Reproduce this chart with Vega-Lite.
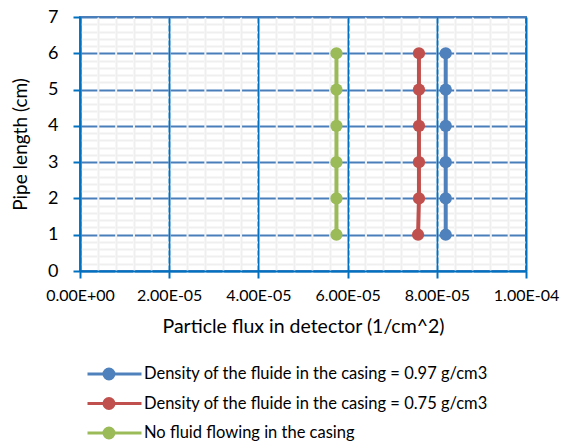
{
  "$schema": "https://vega.github.io/schema/vega-lite/v6.json",
  "autosize": {"type": "none"},
  "width": 446,
  "height": 254,
  "padding": {"left": 80, "top": 17, "right": 35, "bottom": 175},
  "background": "white",
  "config": {
    "font": "Lato",
    "view": {"stroke": "#4A7EBB", "strokeWidth": 2}
  },
  "data": {
    "values": [
      {"series": "Density of the fluide in the casing = 0.97 g/cm3", "flux": 0.0000820, "length": 1},
      {"series": "Density of the fluide in the casing = 0.97 g/cm3", "flux": 0.0000820, "length": 2},
      {"series": "Density of the fluide in the casing = 0.97 g/cm3", "flux": 0.0000820, "length": 3},
      {"series": "Density of the fluide in the casing = 0.97 g/cm3", "flux": 0.0000820, "length": 4},
      {"series": "Density of the fluide in the casing = 0.97 g/cm3", "flux": 0.0000820, "length": 5},
      {"series": "Density of the fluide in the casing = 0.97 g/cm3", "flux": 0.0000820, "length": 6},
      {"series": "Density of the fluide in the casing = 0.75 g/cm3", "flux": 0.0000758, "length": 1},
      {"series": "Density of the fluide in the casing = 0.75 g/cm3", "flux": 0.0000760, "length": 2},
      {"series": "Density of the fluide in the casing = 0.75 g/cm3", "flux": 0.0000760, "length": 3},
      {"series": "Density of the fluide in the casing = 0.75 g/cm3", "flux": 0.0000760, "length": 4},
      {"series": "Density of the fluide in the casing = 0.75 g/cm3", "flux": 0.0000760, "length": 5},
      {"series": "Density of the fluide in the casing = 0.75 g/cm3", "flux": 0.0000760, "length": 6},
      {"series": "No fluid flowing in the casing", "flux": 0.0000575, "length": 1},
      {"series": "No fluid flowing in the casing", "flux": 0.0000575, "length": 2},
      {"series": "No fluid flowing in the casing", "flux": 0.0000575, "length": 3},
      {"series": "No fluid flowing in the casing", "flux": 0.0000575, "length": 4},
      {"series": "No fluid flowing in the casing", "flux": 0.0000575, "length": 5},
      {"series": "No fluid flowing in the casing", "flux": 0.0000575, "length": 6}
    ]
  },
  "encoding": {
    "x": {
      "field": "flux",
      "type": "quantitative",
      "scale": {"domain": [0, 0.0001], "nice": false, "zero": true},
      "axis": {
        "title": "Particle flux in detector (1/cm^2)",
        "titleFont": "Lato",
        "titleFontSize": 19.5,
        "titleFontWeight": "normal",
        "titleColor": "#000000",
        "titlePadding": 14,
        "values": [0, 0.000004, 0.000008, 0.000012, 0.000016, 0.00002, 0.000024, 0.000028, 0.000032, 0.000036, 0.00004, 0.000044, 0.000048, 0.000052, 0.000056, 0.00006, 0.000064, 0.000068, 0.000072, 0.000076, 0.00008, 0.000084, 0.000088, 0.000092, 0.000096, 0.0001],
        "labelExpr": "abs(datum.value*50000 - round(datum.value*50000)) < 0.001 ? replace(replace(upper(format(datum.value, '.2e')), 'E-', 'E-0'), 'E+', 'E+0') : ''",
        "labelFont": "Lato",
        "labelFontSize": 16,
        "labelColor": "#000000",
        "labelPadding": 9,
        "labelFlush": false,
        "labelOverlap": false,
        "domainColor": "#0070C0",
        "domainWidth": 2,
        "tickSize": 7,
        "tickWidth": 2,
        "tickColor": "#0070C0",
        "tickOpacity": {"condition": {"test": "abs(datum.value*50000 - round(datum.value*50000)) < 0.001", "value": 1}, "value": 0},
        "grid": true,
        "gridColor": {"condition": {"test": "abs(datum.value*50000 - round(datum.value*50000)) < 0.001", "value": "#0070C0"}, "value": "#EFEFEF"},
        "gridDash": [],
        "gridWidth": 2,
        "gridOpacity": 1
      }
    },
    "y": {
      "field": "length",
      "type": "quantitative",
      "scale": {"domain": [0, 7], "nice": false},
      "axis": {
        "title": "Pipe length (cm)",
        "titleFont": "Lato",
        "titleFontSize": 19,
        "titleFontWeight": "normal",
        "titleColor": "#000000",
        "titleX": -60,
        "titleBaseline": "middle",
        "values": [0, 0.2, 0.4, 0.6, 0.8, 1, 1.2, 1.4, 1.6, 1.8, 2, 2.2, 2.4, 2.6, 2.8, 3, 3.2, 3.4, 3.6, 3.8, 4, 4.2, 4.4, 4.6, 4.8, 5, 5.2, 5.4, 5.6, 5.8, 6, 6.2, 6.4, 6.6, 6.8, 7],
        "labelExpr": "abs(datum.value - round(datum.value)) < 0.001 ? format(datum.value, 'd') : ''",
        "labelFont": "Lato",
        "labelFontSize": 18,
        "labelColor": "#000000",
        "labelPadding": 15,
        "labelOverlap": false,
        "labelFlush": false,
        "domainColor": "#0070C0",
        "domainWidth": 2,
        "tickSize": 7,
        "tickWidth": 2,
        "tickColor": "#0070C0",
        "tickOpacity": {"condition": {"test": "abs(datum.value - round(datum.value)) < 0.001", "value": 1}, "value": 0},
        "grid": true,
        "gridColor": {"condition": {"test": "abs(datum.value - round(datum.value)) < 0.001", "value": "#4A7EBB"}, "value": "#EFEFEF"},
        "gridDash": [15.84, 2],
        "gridDashOffset": 16.84,
        "gridWidth": 2,
        "gridOpacity": 1
      }
    },
    "color": {
      "field": "series",
      "type": "nominal",
      "scale": {
        "domain": ["Density of the fluide in the casing = 0.97 g/cm3", "Density of the fluide in the casing = 0.75 g/cm3", "No fluid flowing in the casing"],
        "range": ["#4F81BD", "#C0504D", "#9BBB59"]
      },
      "legend": {
        "title": null,
        "orient": "none",
        "legendX": 6,
        "legendY": 349,
        "direction": "vertical",
        "padding": 0,
        "labelFont": "Lato",
        "labelFontSize": 16.5,
        "labelColor": "#000000",
        "labelLimit": 500,
        "labelOffset": 1,
        "clipHeight": 16,
        "rowPadding": 12.5,
        "symbolSize": 2916,
        "symbolStrokeWidth": 3,
        "symbolType": "M-1,0H1M-0.02,0A0.185,0.185,0,1,1,-0.39,0A0.185,0.185,0,1,1,-0.02,0Z",
        "encode": {
          "symbols": {
            "update": {
              "fill": {"scale": "color", "field": "value"},
              "stroke": {"scale": "color", "field": "value"},
              "strokeWidth": {"value": 3},
              "opacity": {"value": 1}
            }
          }
        }
      }
    },
    "order": {"field": "length", "type": "quantitative"}
  },
  "layer": [
    {"mark": {"type": "line", "strokeWidth": 4}},
    {"mark": {"type": "point", "filled": true, "size": 150, "opacity": 1}}
  ]
}
